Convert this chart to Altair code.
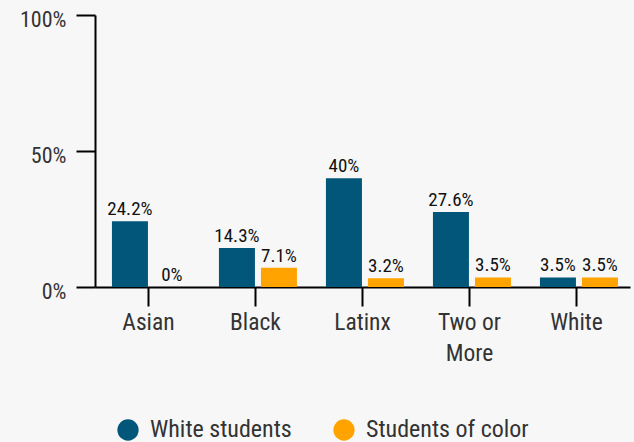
import altair as alt
import pandas as pd

categories = ["Asian", "Black", "Latinx", "Two or More", "White"]
white_students = [24.2, 14.3, 40, 27.6, 3.5]
students_of_color = [0, 7.1, 3.2, 3.5, 3.5]
series_names = ["White students", "Students of color"]
colors = ["#02567a", "#ffa300"]

rows = []
for i, c in enumerate(categories):
    rows.append({"category": c, "group": series_names[0], "value": white_students[i]})
    rows.append({"category": c, "group": series_names[1], "value": students_of_color[i]})
df = pd.DataFrame(rows)

FONT = "Roboto Condensed, Liberation Sans Narrow, DejaVu Sans Condensed, Roboto, sans-serif"

x = alt.X(
    "category:N",
    sort=categories,
    scale=alt.Scale(paddingInner=0.27, paddingOuter=0.135),
    axis=alt.Axis(
        title=None,
        labelAngle=0,
        labelFontSize=23.5,
        labelColor="#333333",
        labelFont=FONT,
        labelPadding=4,
        labelLineHeight=31,
        labelExpr="datum.label == 'Two or More' ? ['Two or', 'More'] : datum.label",
        domainColor="#000000",
        domainWidth=2,
        tickColor="#000000",
        tickWidth=2,
        tickSize=19,
    ),
)
xoff = alt.XOffset(
    "group:N",
    sort=series_names,
    scale=alt.Scale(domain=series_names, paddingInner=0.143, range=[2.5, 80.5]),
)
y = alt.Y(
    "value:Q",
    scale=alt.Scale(domain=[0, 100], nice=False),
    axis=alt.Axis(
        title=None,
        values=[0, 50, 100],
        labelExpr="datum.value + '%'",
        labelFontSize=22,
        labelColor="#333333",
        labelFont=FONT,
        labelPadding=10,
        labelBaseline="middle",
        labelOffset=4,
        domainColor="#000000",
        domainWidth=2,
        tickColor="#000000",
        tickWidth=2,
        tickSize=19,
        grid=False,
    ),
)

bars = alt.Chart(df).mark_bar().encode(
    x=x,
    xOffset=xoff,
    y=y,
    color=alt.Color(
        "group:N",
        sort=series_names,
        scale=alt.Scale(domain=series_names, range=colors),
        legend=alt.Legend(
            title=None,
            orient="none",
            direction="horizontal",
            legendX=21,
            legendY=403,
            symbolType="circle",
            symbolSize=452,
            symbolStrokeWidth=0,
            labelFontSize=24,
            labelFont=FONT,
            labelColor="#333333",
            labelLimit=400,
            columnPadding=40,
            labelOffset=10,
        ),
    ),
)

labels = alt.Chart(df).transform_calculate(
    lab="toString(datum.value) + '%'"
).mark_text(
    baseline="alphabetic", dy=-6, fontSize=19, font=FONT, color="#111111"
).encode(
    x=alt.X("category:N", sort=categories),
    xOffset=alt.XOffset("group:N", sort=series_names),
    y=alt.Y("value:Q"),
    text="lab:N",
)

chart = (
    alt.layer(bars, labels)
    .properties(
        width=535,
        height=272,
        background="#f7f7f7",
        padding={"left": 95, "top": 15, "right": 4, "bottom": 155},
        autosize=alt.AutoSizeParams(type="none"),
    )
    .configure_view(stroke=None)
)

chart.save("out.html", embed_options={"renderer": "svg", "actions": False})
